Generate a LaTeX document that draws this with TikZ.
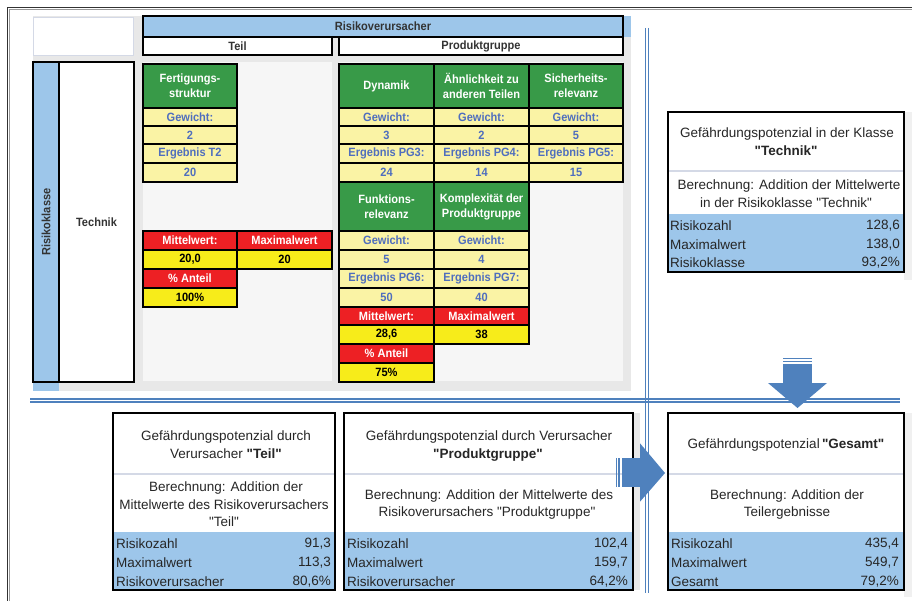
\documentclass[tikz,border=0pt]{standalone}
\usepackage{fontspec}
\setmainfont{Liberation Sans}[Ligatures=TeXOff]
\newfontfamily\cellff{Liberation Sans}[FakeStretch=0.92, Ligatures=TeXOff]
\definecolor{hdrblue}{RGB}{157,198,234}
\definecolor{cgreen}{RGB}{56,154,72}
\definecolor{clyellow}{RGB}{250,243,165}
\definecolor{ctblue}{RGB}{79,110,190}
\definecolor{cred}{RGB}{237,32,36}
\definecolor{cyellow}{RGB}{247,236,26}
\definecolor{cgray}{RGB}{232,232,232}
\definecolor{cinner}{RGB}{246,246,246}
\definecolor{lineblue}{RGB}{79,129,189}
\definecolor{divc}{RGB}{212,217,230}
\definecolor{shadowg}{RGB}{240,240,240}
\newcommand{\cellfont}{\cellff\bfseries\fontsize{12}{15}\selectfont}
\newcommand{\panelfont}{\fontsize{13.5}{17}\selectfont}
\newcommand{\mkcell}[7]{\node[#1, minimum width={(#4-#2)*1pt}, minimum height={(#5-#3)*1pt}] (#6) at ({(#2+#4)/2},{(#3+#5)/2}) {#7};}
\begin{document}
\begin{tikzpicture}[x=1pt,y=-1pt,
  cell/.style={draw=black, line width=1.2pt, inner sep=0pt, outer sep=0pt, align=center, font=\cellfont},
  cg/.style={cell, fill=cgreen, text=white},
  cy/.style={cell, fill=clyellow, text=ctblue},
  cr/.style={cell, fill=cred, text=white},
  cY/.style={cell, fill=cyellow, text=black},
  hdr/.style={cell, line width=1.8pt},
  pbox/.style={draw=black, line width=1.8pt, inner sep=0pt, outer sep=0pt},
  ptext/.style={font=\panelfont, inner sep=0pt, align=center, text=black!85},
  blueline/.style={draw=lineblue, line width=1.3pt},
  arrowfill/.style={fill=lineblue}
]
\useasboundingbox (0,0) rectangle (912,601);
\fill[white] (0,0) rectangle (912,601);

% outer frame
\draw[black!80, line width=1pt] (7.6,601) -- (7.6,7.6) -- (912,7.6);
\draw[black!40, line width=0.8pt] (9.2,601) -- (9.2,9.2) -- (912,9.2);

% spreadsheet background
\fill[cgray] (33,16) rectangle (631,391);
\node[draw=divc, fill=white, line width=0.8pt, minimum width=100pt, minimum height=38pt, inner sep=0pt] (blank) at (83,36) {};
\fill[hdrblue] (143,16) rectangle (631,37);
\mkcell{hdr, fill=hdrblue, text=black!80}{143}{16}{623}{37}{hRV}{Risikoverursacher}
\mkcell{hdr, fill=white, text=black!80}{143}{37}{332}{55}{hTeil}{Teil}
\mkcell{hdr, fill=white, text=black!80}{339}{37}{623}{55}{hPG}{Produktgruppe}
\fill[cinner] (143,62) rectangle (332,381);
\fill[cinner] (339,62) rectangle (623,381);

% left column
\fill[hdrblue] (33,62) rectangle (59,391);
\mkcell{hdr, fill=hdrblue, text=black!80}{33}{62}{59}{382}{rk}{}
\node[font=\cellfont, rotate=90, text=black!80] (rkt) at (rk) {Risikoklasse};
\mkcell{hdr, fill=white, text=black!80}{59}{62}{134}{382}{tech}{Technik}

% Teil column
\mkcell{cg}{143}{64}{237}{108}{t0}{Fertigungs-\\struktur}
\mkcell{cy}{143}{108}{237}{126}{t1}{Gewicht:}
\mkcell{cy}{143}{126}{237}{144}{t2}{2}
\mkcell{cy}{143}{144}{237}{163}{t3}{Ergebnis T2}
\mkcell{cy}{143}{163}{237}{182}{t4}{20}
\mkcell{cr}{143}{231}{237}{250}{tm}{Mittelwert:}
\mkcell{cr}{237}{231}{332}{250}{tx}{Maximalwert}
\mkcell{cY}{143}{250}{237}{269}{tmv}{20,0}
\mkcell{cY}{237}{250}{332}{269}{txv}{20}
\mkcell{cr}{143}{269}{237}{288}{ta}{\% Anteil}
\mkcell{cY}{143}{288}{237}{307}{tav}{100\%}

% Produktgruppe top block
\mkcell{cg}{339}{64}{434}{108}{b0}{Dynamik}
\mkcell{cy}{339}{108}{434}{126}{b1}{Gewicht:}
\mkcell{cy}{339}{126}{434}{144}{b2}{3}
\mkcell{cy}{339}{144}{434}{163}{b3}{Ergebnis PG3:}
\mkcell{cy}{339}{163}{434}{182}{b4}{24}
\mkcell{cg}{434}{64}{529}{108}{c0}{Ähnlichkeit zu\\anderen Teilen}
\mkcell{cy}{434}{108}{529}{126}{c1}{Gewicht:}
\mkcell{cy}{434}{126}{529}{144}{c2}{2}
\mkcell{cy}{434}{144}{529}{163}{c3}{Ergebnis PG4:}
\mkcell{cy}{434}{163}{529}{182}{c4}{14}
\mkcell{cg}{529}{64}{623}{108}{d0}{Sicherheits-\\relevanz}
\mkcell{cy}{529}{108}{623}{126}{d1}{Gewicht:}
\mkcell{cy}{529}{126}{623}{144}{d2}{5}
\mkcell{cy}{529}{144}{623}{163}{d3}{Ergebnis PG5:}
\mkcell{cy}{529}{163}{623}{182}{d4}{15}

% Produktgruppe second block
\mkcell{cg}{339}{182}{434}{231}{e0}{Funktions-\\relevanz}
\mkcell{cy}{339}{231}{434}{250}{e1}{Gewicht:}
\mkcell{cy}{339}{250}{434}{269}{e2}{5}
\mkcell{cy}{339}{269}{434}{288}{e3}{Ergebnis PG6:}
\mkcell{cy}{339}{288}{434}{307}{e4}{50}
\mkcell{cr}{339}{307}{434}{325}{em}{Mittelwert:}
\mkcell{cY}{339}{325}{434}{344}{emv}{28,6}
\mkcell{cr}{339}{344}{434}{363}{ea}{\% Anteil}
\mkcell{cY}{339}{363}{434}{382}{eav}{75\%}
\mkcell{cg}{434}{182}{529}{231}{f0}{Komplexität der\\Produktgruppe}
\mkcell{cy}{434}{231}{529}{250}{f1}{Gewicht:}
\mkcell{cy}{434}{250}{529}{269}{f2}{4}
\mkcell{cy}{434}{269}{529}{288}{f3}{Ergebnis PG7:}
\mkcell{cy}{434}{288}{529}{307}{f4}{40}
\mkcell{cr}{434}{307}{529}{325}{fx}{Maximalwert}
\mkcell{cY}{434}{325}{529}{344}{fxv}{38}

% separator lines
\draw[blueline] (645.5,28) -- (645.5,593);
\draw[blueline] (648.4,28) -- (648.4,593);
\draw[blueline] (30,399) -- (900,399);
\draw[blueline] (30,402) -- (900,402);

% shadows
\fill[shadowg] (904,112) rectangle (912,280);
\fill[cgray] (633,413) rectangle (640,590);
\fill[shadowg] (904,413) rectangle (912,597);

% panel Technik
\fill[white] (668,112) rectangle (904,272);
\fill[hdrblue] (668,214) rectangle (904,272);
\draw[divc, line width=1.5pt] (668,171) -- (904,171);
\node[pbox, minimum width=236pt, minimum height=160pt] (pT) at (786,192) {};
\node[ptext] (pT1) at (787,134) {Gefährdungspotenzial in der Klasse};
\node[ptext] (pT2) at (786,151) {\textbf{"Technik"}};
\node[ptext] (pT3) at (789,186) {Berechnung: Addition der Mittelwerte};
\node[ptext] (pT4) at (786,203) {in der Risikoklasse "Technik"};
\node[ptext, anchor=west] (pTr1) at (670,226) {Risikozahl};
\node[ptext, anchor=west] (pTr2) at (670,245) {Maximalwert};
\node[ptext, anchor=west] (pTr3) at (670,263) {Risikoklasse};
\node[ptext, anchor=east] (pTv1) at (900,226) {128,6};
\node[ptext, anchor=east] (pTv2) at (900,245) {138,0};
\node[ptext, anchor=east] (pTv3) at (900,263) {93,2\%};

% panel Teil
\fill[white] (113,413) rectangle (335,590);
\fill[hdrblue] (113,532) rectangle (335,590);
\draw[divc, line width=1.5pt] (113,474) -- (335,474);
\node[pbox, line width=2.2pt, minimum width=222pt, minimum height=177pt] (pA) at (224,501.5) {};
\node[ptext] (pA1) at (226,437) {Gefährdungspotenzial durch};
\node[ptext] (pA2) at (226,454) {Verursacher \textbf{"Teil"}};
\node[ptext] (pA3) at (226,488) {Berechnung: Addition der};
\node[ptext] (pA4) at (224,505) {Mittelwerte des Risikoverursachers};
\node[ptext] (pA5) at (224,522) {"Teil"};
\node[ptext, anchor=west] (pAr1) at (116,544) {Risikozahl};
\node[ptext, anchor=west] (pAr2) at (116,563) {Maximalwert};
\node[ptext, anchor=west] (pAr3) at (116,582) {Risikoverursacher};
\node[ptext, anchor=east] (pAv1) at (331,544) {91,3};
\node[ptext, anchor=east] (pAv2) at (331,563) {113,3};
\node[ptext, anchor=east] (pAv3) at (331,582) {80,6\%};

% panel Produktgruppe
\fill[white] (344,413) rectangle (633,590);
\fill[hdrblue] (344,532) rectangle (633,590);
\draw[divc, line width=1.5pt] (344,474) -- (633,474);
\node[pbox, minimum width=289pt, minimum height=177pt] (pB) at (488.5,501.5) {};
\node[ptext] (pB1) at (489,437) {Gefährdungspotenzial durch Verursacher};
\node[ptext] (pB2) at (488,455) {\textbf{"Produktgruppe"}};
\node[ptext] (pB3) at (489,496) {Berechnung: Addition der Mittelwerte des};
\node[ptext] (pB4) at (487,513) {Risikoverursachers "Produktgruppe"};
\node[ptext, anchor=west] (pBr1) at (347,544) {Risikozahl};
\node[ptext, anchor=west] (pBr2) at (347,563) {Maximalwert};
\node[ptext, anchor=west] (pBr3) at (347,582) {Risikoverursacher};
\node[ptext, anchor=east] (pBv1) at (628,544) {102,4};
\node[ptext, anchor=east] (pBv2) at (628,563) {159,7};
\node[ptext, anchor=east] (pBv3) at (628,582) {64,2\%};

% panel Gesamt
\fill[white] (668,413) rectangle (904,590);
\fill[hdrblue] (668,532) rectangle (904,590);
\draw[divc, line width=1.5pt] (668,474) -- (904,474);
\node[pbox, minimum width=236pt, minimum height=177pt] (pC) at (786,501.5) {};
\node[ptext] (pC1) at (786,445) {Gefährdungspotenzial\,\textbf{"Gesamt"}};
\node[ptext] (pC2) at (787,496) {Berechnung: Addition der};
\node[ptext] (pC3) at (787,513) {Teilergebnisse};
\node[ptext, anchor=west] (pCr1) at (671,544) {Risikozahl};
\node[ptext, anchor=west] (pCr2) at (671,563) {Maximalwert};
\node[ptext, anchor=west] (pCr3) at (671,582) {Gesamt};
\node[ptext, anchor=east] (pCv1) at (899,544) {435,4};
\node[ptext, anchor=east] (pCv2) at (899,563) {549,7};
\node[ptext, anchor=east] (pCv3) at (899,582) {79,2\%};

% block arrows
\fill[arrowfill] (783,357.8) rectangle (812,359.2);
\fill[arrowfill] (783,360.8) rectangle (812,362.2);
\fill[arrowfill] (783,364) rectangle (812,383.5);
\fill[arrowfill] (768,383) -- (827,383) -- (797.5,408) -- cycle;
\fill[arrowfill] (615.6,458.3) rectangle (617,486.7);
\fill[arrowfill] (618.4,458.3) rectangle (620,486.7);
\fill[arrowfill] (621.6,458.3) rectangle (640.5,486.7);
\fill[arrowfill] (640,443.3) -- (665,473) -- (640,501.7) -- cycle;
\end{tikzpicture}
\end{document}
